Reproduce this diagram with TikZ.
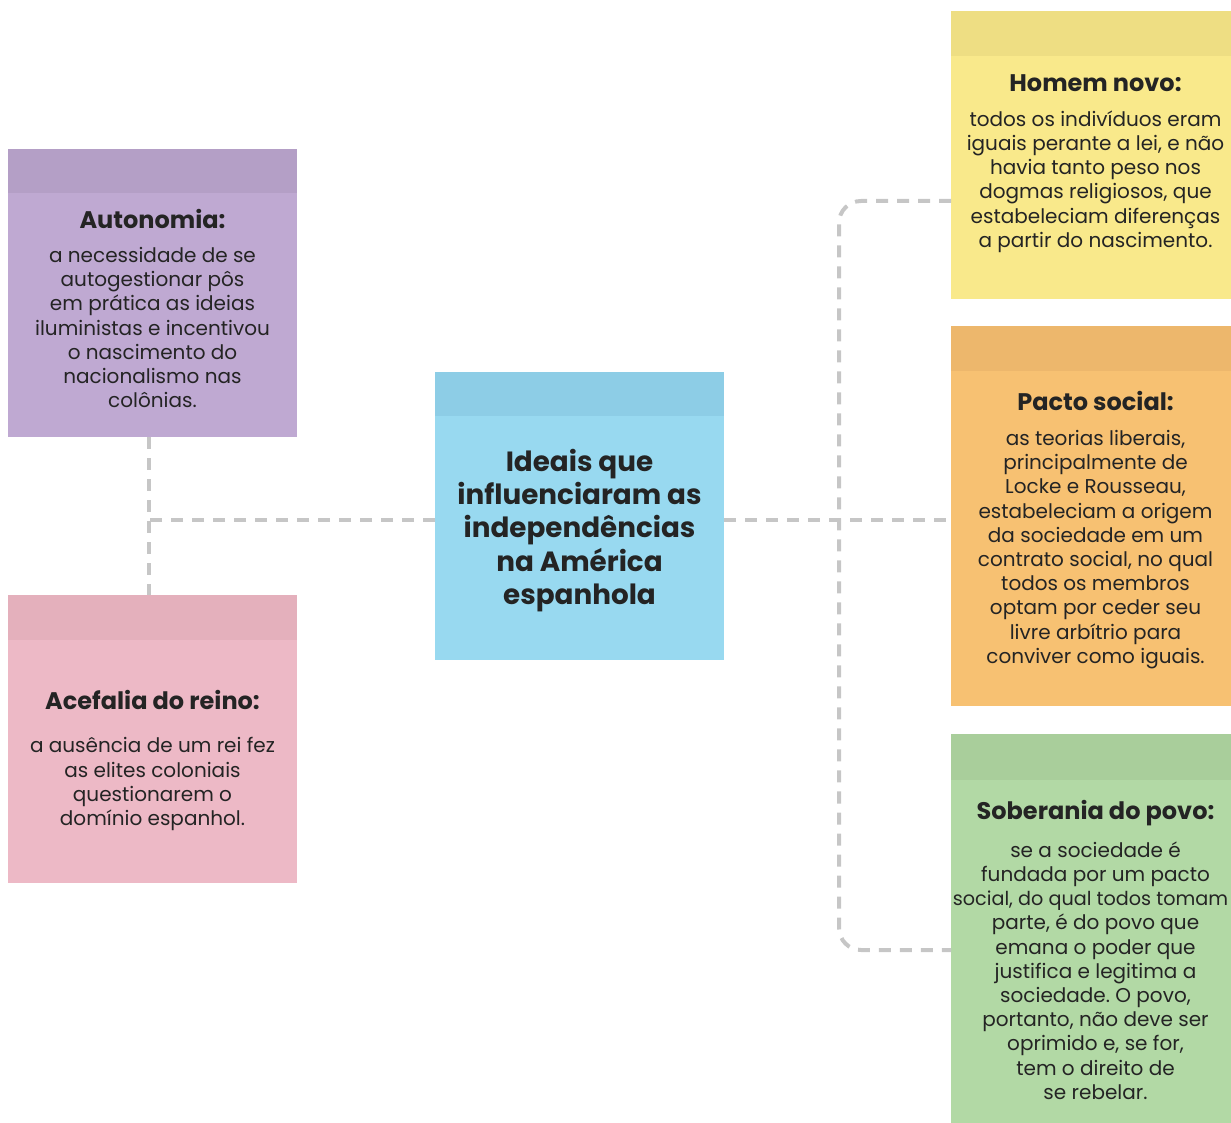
\documentclass[tikz,border=0pt]{standalone}
\usepackage{fontspec}
\setmainfont{Poppins}
\frenchspacing
\definecolor{purB}{HTML}{BFA9D2}
\definecolor{purH}{HTML}{B49FC6}
\definecolor{pinkB}{HTML}{EDB9C6}
\definecolor{pinkH}{HTML}{E4B0BC}
\definecolor{bluB}{HTML}{98D9F0}
\definecolor{bluH}{HTML}{8DCDE6}
\definecolor{yelB}{HTML}{F9E98B}
\definecolor{yelH}{HTML}{EEDE83}
\definecolor{oraB}{HTML}{F7C172}
\definecolor{oraH}{HTML}{EDB76C}
\definecolor{greB}{HTML}{B2D9A5}
\definecolor{greH}{HTML}{A9CE9B}
\definecolor{lineG}{HTML}{C6C6C6}
\definecolor{txt}{HTML}{242424}
\begin{document}
\begin{tikzpicture}[x=1pt,y=-1pt,
  card/.style={draw=none,minimum width=289pt,inner sep=0pt,anchor=north west},
  ttl/.style={font=\fontsize{24}{28}\selectfont\bfseries,text=txt,anchor=center,inner sep=0pt},
  bdy/.style={font=\fontsize{20}{24.2}\selectfont,text=txt,align=center,anchor=north,inner sep=0pt},
  conn/.style={draw=lineG,line width=4pt,dash pattern=on 12pt off 9pt}]
\useasboundingbox (0,0) rectangle (1231,1123);
\clip (0,0) rectangle (1231,1123);
% cards
\node[card,fill=purB,minimum height=288pt] (auto) at (8,149) {};
\fill[purH] (auto.north west) rectangle ([yshift=-44pt]auto.north east);
\node[card,fill=pinkB,minimum height=288pt] (acef) at (8,595) {};
\fill[pinkH] (acef.north west) rectangle ([yshift=-45pt]acef.north east);
\node[card,fill=bluB,minimum height=288pt] (cent) at (435,372) {};
\fill[bluH] (cent.north west) rectangle ([yshift=-44pt]cent.north east);
\node[card,fill=yelB,minimum height=288pt] (homem) at (951,11) {};
\fill[yelH] (homem.north west) rectangle ([yshift=-45pt]homem.north east);
\node[card,fill=oraB,minimum height=380pt] (pacto) at (951,326) {};
\fill[oraH] (pacto.north west) rectangle ([yshift=-45pt]pacto.north east);
\node[card,fill=greB,minimum height=389pt] (sober) at (951,734) {};
\fill[greH] (sober.north west) rectangle ([yshift=-46pt]sober.north east);
% connectors
\coordinate (jl) at (149,520);
\coordinate (ytop) at (0,201);
\coordinate (ybot) at (0,950);
\coordinate (vx) at (839,0);
\draw[conn] (cent.west |- jl) -- (jl);
\draw[conn] ([xshift=-4pt]auto.south) -- ([xshift=-4pt]acef.north);
\draw[conn] (cent.east |- jl) -- (pacto.west |- jl);
\draw[conn,rounded corners=22pt] (homem.west |- ytop) -| (vx |- ybot) -- (sober.west |- ybot);
% texts
\node[ttl] (t1) at (152.5,219) {Autonomia:};
\node[bdy] (b1) at (152.5,247) {a necessidade de se\\autogestionar pôs\\em prática as ideias\\iluministas e incentivou\\o nascimento do\\nacionalismo nas\\colônias.};
\node[ttl] (t2) at (152.5,700) {Acefalia do reino:};
\node[bdy] (b2) at (152.5,737.5) {a ausência de um rei fez\\as elites coloniais\\questionarem o\\domínio espanhol.};
\node[font=\fontsize{27.8}{33.25}\selectfont\bfseries,text=txt,align=center,anchor=north,inner sep=0pt] (tc) at (579.5,449) {Ideais que\\influenciaram as\\independências\\na América\\espanhola};
\node[ttl] (t3) at (1095.5,83) {Homem novo:};
\node[bdy] (b3) at (1095.5,110.5) {todos os indivíduos eram\\iguais perante a lei, e não\\havia tanto peso nos\\dogmas religiosos, que\\estabeleciam diferenças\\a partir do nascimento.};
\node[ttl] (t4) at (1095.5,401) {Pacto social:};
\node[bdy] (b4) at (1095.5,430) {as teorias liberais,\\principalmente de\\Locke e Rousseau,\\estabeleciam a origem\\da sociedade em um\\contrato social, no qual\\todos os membros\\optam por ceder seu\\livre arbítrio para\\conviver como iguais.};
\node[ttl] (t5) at (1095.5,813) {Soberania do povo:};
\node[bdy] (b5) at (1095.5,841.5) {se a sociedade é\\fundada por um pacto\\\makebox[0pt]{\fontsize{19.2}{24.2}\selectfont social, do qual todos tomam\hspace*{10pt}}\\parte, é do povo que\\emana o poder que\\justifica e legitima a\\sociedade. O povo,\\portanto, não deve ser\\oprimido e, se for,\\tem o direito de\\se rebelar.};
\end{tikzpicture}
\end{document}
